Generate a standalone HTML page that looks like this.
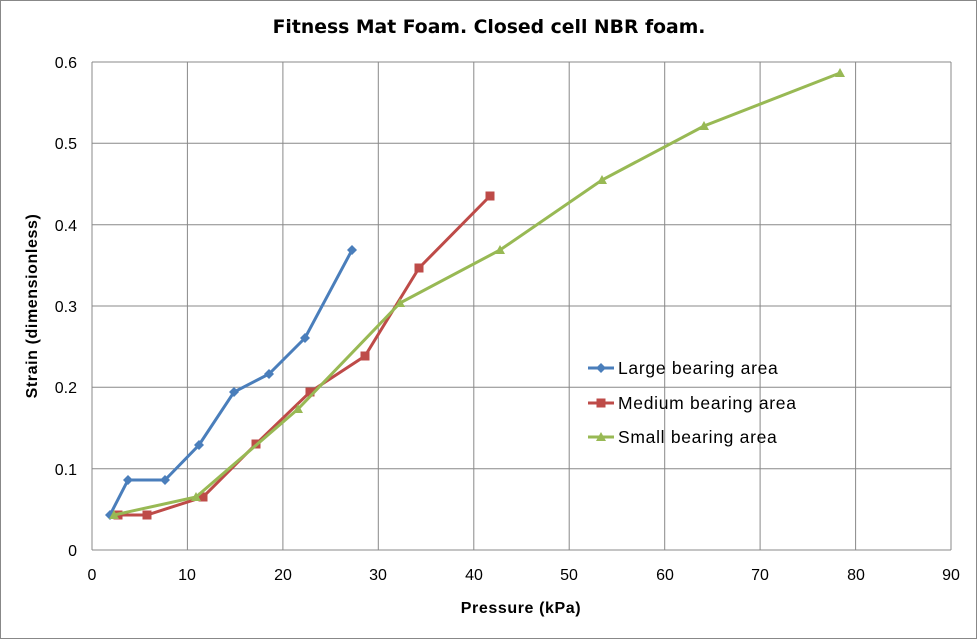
<!DOCTYPE html>
<html><head><style>body{margin:0;background:#fff}svg{display:block}text{font-family:"Liberation Sans",sans-serif}</style></head><body>
<svg width="977" height="639" viewBox="0 0 977 639" xmlns="http://www.w3.org/2000/svg">
<rect x="0.5" y="0.5" width="976" height="638" fill="#fff" stroke="#888"/>
<text x="489" y="33" font-size="18.8" font-weight="bold" text-anchor="middle" style="font-family:'DejaVu Sans',sans-serif">Fitness Mat Foam. Closed cell NBR foam.</text>
<g stroke="#888" stroke-width="1">
<line x1="92" y1="62" x2="951" y2="62"/><line x1="92" y1="143.3" x2="951" y2="143.3"/><line x1="92" y1="224.7" x2="951" y2="224.7"/><line x1="92" y1="306" x2="951" y2="306"/><line x1="92" y1="387.3" x2="951" y2="387.3"/><line x1="92" y1="468.7" x2="951" y2="468.7"/><line x1="92" y1="550" x2="951" y2="550"/>
<line x1="92" y1="62" x2="92" y2="550"/><line x1="187.4" y1="62" x2="187.4" y2="550"/><line x1="282.9" y1="62" x2="282.9" y2="550"/><line x1="378.3" y1="62" x2="378.3" y2="550"/><line x1="473.8" y1="62" x2="473.8" y2="550"/><line x1="569.2" y1="62" x2="569.2" y2="550"/><line x1="664.7" y1="62" x2="664.7" y2="550"/><line x1="760.1" y1="62" x2="760.1" y2="550"/><line x1="855.6" y1="62" x2="855.6" y2="550"/><line x1="951" y1="62" x2="951" y2="550"/>
</g>
<g font-size="16" text-anchor="end">
<text x="77" y="68">0.6</text><text x="77" y="149">0.5</text><text x="77" y="231">0.4</text><text x="77" y="312">0.3</text><text x="77" y="393">0.2</text><text x="77" y="475">0.1</text><text x="77" y="556">0</text>
</g>
<g font-size="16" text-anchor="middle">
<text x="92" y="580">0</text><text x="187" y="580">10</text><text x="283" y="580">20</text><text x="378" y="580">30</text><text x="474" y="580">40</text><text x="569" y="580">50</text><text x="665" y="580">60</text><text x="760" y="580">70</text><text x="856" y="580">80</text><text x="951" y="580">90</text>
</g>
<text x="521" y="613" font-size="16" font-weight="bold" text-anchor="middle" letter-spacing="0.6">Pressure  (kPa)</text>
<text transform="translate(37,306) rotate(-90)" font-size="16" font-weight="bold" text-anchor="middle" letter-spacing="0.6">Strain  (dimensionless)</text>
<polyline fill="none" stroke="#4a7ebb" stroke-width="3" points="110,515 128,480 165,480 199,445 234,392 269,374 305,338 352,250"/>
<g fill="#4a7ebb">
<path d="M110,510l5,5l-5,5l-5,-5z"/><path d="M128,475l5,5l-5,5l-5,-5z"/><path d="M165,475l5,5l-5,5l-5,-5z"/><path d="M199,440l5,5l-5,5l-5,-5z"/><path d="M234,387l5,5l-5,5l-5,-5z"/><path d="M269,369l5,5l-5,5l-5,-5z"/><path d="M305,333l5,5l-5,5l-5,-5z"/><path d="M352,245l5,5l-5,5l-5,-5z"/>
</g>
<polyline fill="none" stroke="#be4b48" stroke-width="3" points="118,515 147,515 203,497 256,444 310,392 365,356 419,268 490,196"/>
<g fill="#be4b48">
<rect x="113.5" y="510.5" width="9" height="9"/><rect x="142.5" y="510.5" width="9" height="9"/><rect x="198.5" y="492.5" width="9" height="9"/><rect x="251.5" y="439.5" width="9" height="9"/><rect x="305.5" y="387.5" width="9" height="9"/><rect x="360.5" y="351.5" width="9" height="9"/><rect x="414.5" y="263.5" width="9" height="9"/><rect x="485.5" y="191.5" width="9" height="9"/>
</g>
<polyline fill="none" stroke="#98b954" stroke-width="3" points="114,515 196,497 298,409 400,303 500,250 602,180 704,126 840,73"/>
<g fill="#98b954">
<path d="M114,510l5,9h-10z"/><path d="M196,492l5,9h-10z"/><path d="M298,404l5,9h-10z"/><path d="M400,298l5,9h-10z"/><path d="M500,245l5,9h-10z"/><path d="M602,175l5,9h-10z"/><path d="M704,121l5,9h-10z"/><path d="M840,68l5,9h-10z"/>
</g>
<line x1="588" y1="368" x2="614" y2="368" stroke="#4a7ebb" stroke-width="3"/><path d="M601,363l5,5l-5,5l-5,-5z" fill="#4a7ebb"/>
<line x1="588" y1="403" x2="614" y2="403" stroke="#be4b48" stroke-width="3"/><rect x="596.5" y="398.5" width="9" height="9" fill="#be4b48"/>
<line x1="588" y1="437" x2="614" y2="437" stroke="#98b954" stroke-width="3"/><path d="M601,432l5,9h-10z" fill="#98b954"/>
<g font-size="17.5" letter-spacing="0.7" style="font-family:'DejaVu Sans',sans-serif"><text x="618" y="374">Large bearing area</text><text x="618" y="409">Medium bearing area</text><text x="618" y="443">Small bearing area</text></g>
</svg>
</body></html>
